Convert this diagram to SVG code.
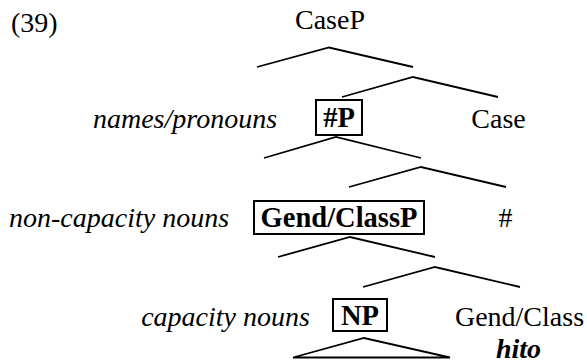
<svg xmlns="http://www.w3.org/2000/svg" width="587" height="363" viewBox="0 0 587 363">
<style>
text{font-family:'Liberation Serif','Times New Roman',Times,serif;font-size:28px;fill:#000}
.c{text-anchor:middle}
.i{font-style:italic}
.b{font-weight:bold;font-size:28.5px}
.bi{font-weight:bold;font-style:italic}
.box{fill:none;stroke:#000;stroke-width:2}
.br{fill:none;stroke:#000;stroke-width:1.8}
</style>
<rect width="587" height="363" fill="#fff"/>
<text x="11" y="32">(39)</text>
<g id="caseP"><text class="c" x="330" y="29">CaseP</text></g>
<g id="numP">
<rect class="box" x="316" y="100" width="46" height="35"/>
<text class="c b" x="339" y="127">#P</text>
<text class="c i" x="185" y="128">names/pronouns</text>
</g>
<g id="case"><text class="c" x="498.5" y="128">Case</text></g>
<g id="gendClassP">
<rect class="box" x="254" y="201" width="170" height="33"/>
<text class="c b" x="339" y="227">Gend/ClassP</text>
<text class="c i" x="119" y="227">non-capacity nouns</text>
</g>
<g id="num"><text class="c" x="505.5" y="227">#</text></g>
<g id="nP">
<rect class="box" x="333" y="299" width="54" height="32"/>
<text class="c b" x="360" y="325">NP</text>
<text class="c i" x="225.5" y="326">capacity nouns</text>
</g>
<g id="gendClass">
<text class="c" x="519.5" y="326">Gend/Class</text>
<text class="c bi" x="518.5" y="358">hito</text>
</g>
<g id="connectors" class="br">
<polyline points="257,67 329,47.5 413,67"/>
<polyline points="342,97 413,77 498,97"/>
<polyline points="264,158 336,137 421,158"/>
<polyline points="349,187 421,167 506,187"/>
<polyline points="278,257 350,237 435,257"/>
<polyline points="363,287 435,267 520,287"/>
<polygon points="293,357.5 364,338 450,357.5"/>
</g>
</svg>
